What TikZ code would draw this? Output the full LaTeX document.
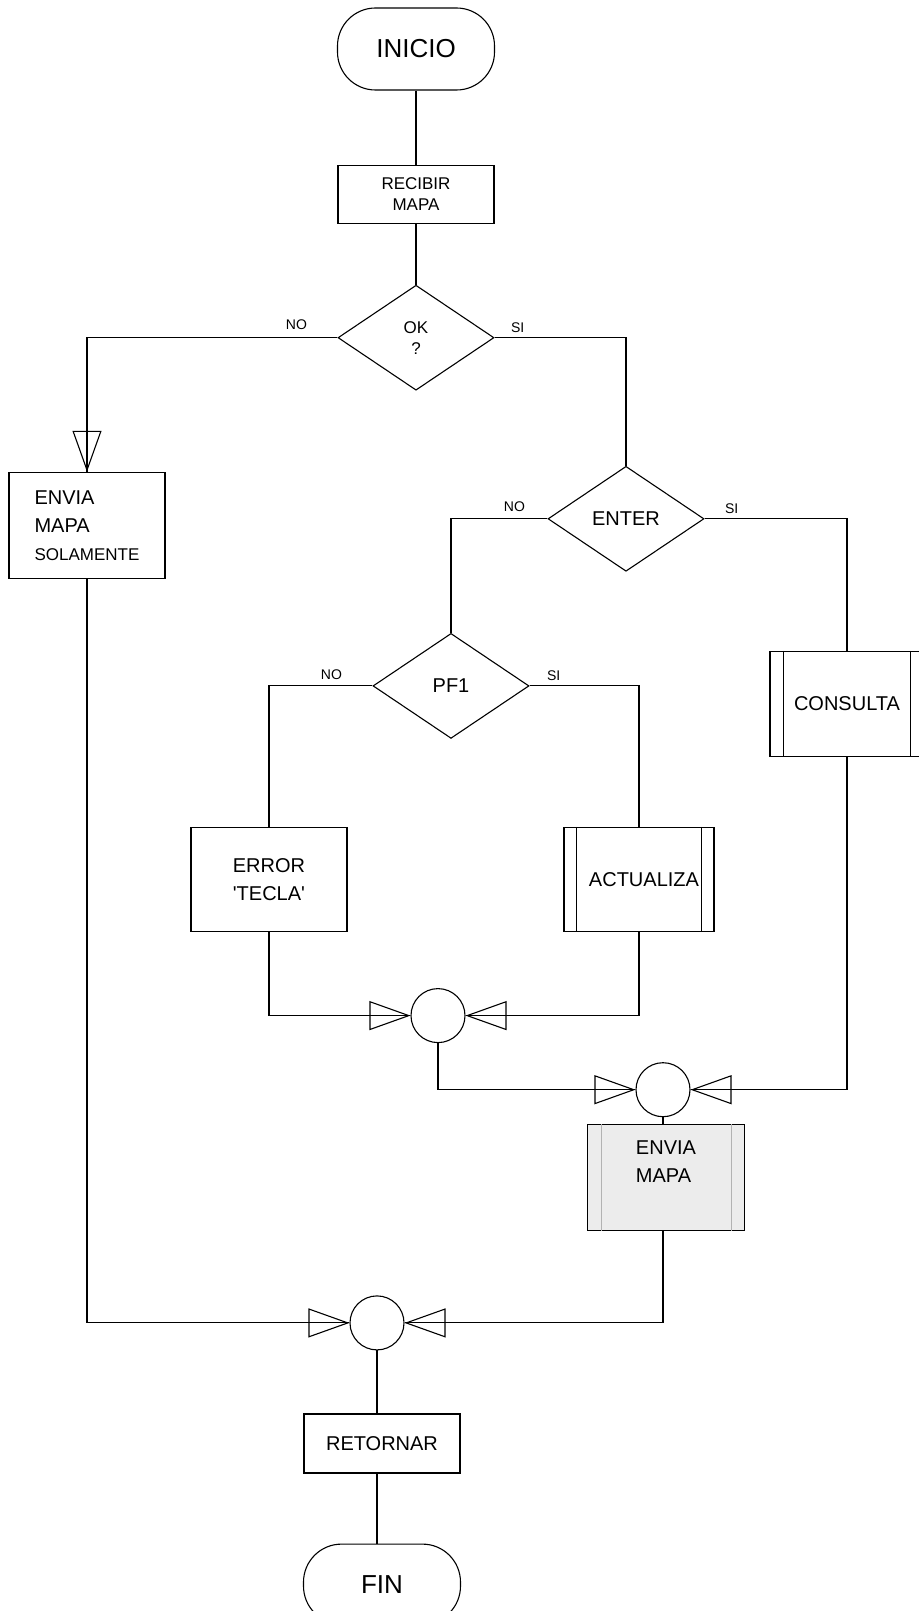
\documentclass[tikz,border=0pt]{standalone}
\usepackage{fontspec}
\setmainfont{Liberation Sans}
\usetikzlibrary{positioning,shapes.geometric,arrows.meta,decorations.markings}

\begin{document}
\begin{tikzpicture}[
  term/.style={rectangle, draw, rounded corners=38pt, minimum width=157pt, minimum height=82pt, font=\fontsize{26}{30}\selectfont},
  proc/.style={rectangle, draw, minimum width=156pt, minimum height=104pt, align=center, font=\fontsize{20}{28}\selectfont},
  dec/.style={diamond, draw, minimum width=156pt, minimum height=105pt, inner sep=0pt, align=center, font=\fontsize{20}{22}\selectfont},
  conn/.style={circle, draw, minimum size=54pt, inner sep=0pt},
  lbl/.style={font=\fontsize{14}{16}\selectfont, inner sep=0pt},
  tri/.style={postaction={decorate}, decoration={markings, mark=at position 1 with {\arrow{Triangle[open, length=41pt, width=29pt]}}}},
  line width=1.1pt
]
\useasboundingbox (-416pt,49pt) rectangle (502pt,-1562pt);

\node[term] (inicio) {INICIO};
\node[proc, below=74pt of inicio, minimum height=58pt, font=\fontsize{17}{21}\selectfont] (recibir) {RECIBIR\\MAPA};
\node[dec, below=61pt of recibir, font=\fontsize{17}{21}\selectfont] (ok) {OK\\?};

\node[proc, below=81pt of ok, xshift=-329pt, minimum height=106pt, align=left] (solo) {ENVIA\\MAPA\\{\fontsize{17}{20}\selectfont SOLAMENTE}};
\node[dec, below=75pt of ok, xshift=210pt] (enter) {ENTER};
\node[dec, below=61pt of enter, xshift=-175pt] (pf1) {PF1};
\node[proc, below=79pt of enter, xshift=221pt, minimum width=154pt, minimum height=105pt] (cons) {CONSULTA};

\node[proc, below=88pt of pf1, xshift=-182pt, align=left] (error) {ERROR\\\textquotesingle TECLA\textquotesingle};
\node[proc, below=88pt of pf1, xshift=188pt, minimum width=150pt, inner sep=0pt] (actual) {\hspace{10pt}ACTUALIZA};

\node[conn, below=56pt of error, xshift=169pt] (c1) {};
\node[conn, below=19pt of c1, xshift=225pt] (c2) {};
\node[proc, below=7pt of c2, xshift=3pt, minimum width=157pt, minimum height=106pt, fill=gray!15, align=left] (envia) {ENVIA\\MAPA\\[4pt]};
\node[conn, below=64pt of envia, xshift=-289pt] (c3) {};
\node[proc, below=63pt of c3, xshift=5pt, minimum height=59pt] (retornar) {RETORNAR};
\node[term, below=70pt of retornar, minimum height=80pt] (fin) {FIN};

% predefined process bars
\draw ([xshift=14pt]cons.north west) -- ([xshift=14pt]cons.south west);
\draw ([xshift=-14pt]cons.north east) -- ([xshift=-14pt]cons.south east);
\draw ([xshift=13pt]actual.north west) -- ([xshift=13pt]actual.south west);
\draw ([xshift=-13pt]actual.north east) -- ([xshift=-13pt]actual.south east);
\draw[gray!60, line width=0.6pt] ([xshift=14pt]envia.north west) -- ([xshift=14pt]envia.south west);
\draw[gray!60, line width=0.6pt] ([xshift=-14pt]envia.north east) -- ([xshift=-14pt]envia.south east);

\node[lbl, above left=8pt and 30pt of ok.west] (okno) {NO};
\node[lbl, above right=5pt and 16pt of ok.east] (oksi) {SI};
\node[lbl, above left=7pt and 22pt of enter.west] (enterno) {NO};
\node[lbl, above right=5pt and 20pt of enter.east] (entersi) {SI};
\node[lbl, above left=6pt and 30pt of pf1.west] (pfno) {NO};
\node[lbl, above right=5pt and 17pt of pf1.east] (pfsi) {SI};

\draw (inicio) -- (recibir);
\draw (recibir) -- (ok);
\draw[tri] (ok.west) -| (solo.north);
\draw (ok.east) -| (enter.north);
\draw (enter.west) -| (pf1.north);
\draw (enter.east) -| (cons.north);
\draw (pf1.west) -| (error.north);
\draw (pf1.east) -| (actual.north);
\draw[tri] (error.south) |- (c1.west);
\draw[tri] (actual.south) |- (c1.east);
\draw[tri] (c1.south) |- (c2.west);
\draw[tri] (cons.south) |- (c2.east);
\draw (c2) -- (c2 |- envia.north);
\draw[tri] (solo.south) |- (c3.west);
\draw[tri] (c2 |- envia.south) |- (c3.east);
\draw (c3) -- (c3 |- retornar.north);
\draw (c3 |- retornar.south) -- (c3 |- fin.north);

\end{tikzpicture}
\end{document}
